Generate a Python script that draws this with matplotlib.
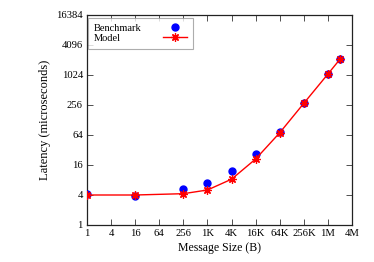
import matplotlib
matplotlib.use("Agg")
import matplotlib.pyplot as plt
from matplotlib.ticker import FixedLocator, NullLocator

plt.rcParams['font.family'] = ['Liberation Serif', 'DejaVu Serif']

sizes = [1, 16, 256, 1024, 4096, 16384, 65536, 262144, 1048576, 2097152]
benchmark = [4.25, 3.76, 5.3, 6.9, 12.1, 26, 73.5, 277, 1070, 2120]
model = [4.0, 4.0, 4.25, 5.04, 8.3, 21.1, 71, 277, 1070, 2120]

xticks = [1, 4, 16, 64, 256, 1024, 4096, 16384, 65536, 262144, 1048576, 4194304]
xlabels = ['1', '4', '16', '64', '256', '1K', '4K', '16K', '64K', '256K', '1M', '4M']
yticks = [1, 4, 16, 64, 256, 1024, 4096, 16384]
ylabels = ['1', '4', '16', '64', '256', '1024', '4096', '16384']

fig = plt.figure(figsize=(3.74, 2.62), dpi=100)
ax = fig.add_axes([87/374, 1-225/262, (352-87)/374, (225-15)/262])

ax.plot(sizes, benchmark, linestyle='none', marker='o', color='#0000ff',
        markersize=5, label='Benchmark', zorder=3)
ax.plot(sizes, model, color='#ff0000', marker=(8, 2, 0), markersize=6,
        linewidth=1.0, markeredgewidth=0.9, label='Model', zorder=4)

ax.set_xscale('log', base=2)
ax.set_yscale('log', base=2)
ax.set_xlim(1, 4194304)
ax.set_ylim(1, 16384)
ax.xaxis.set_major_locator(FixedLocator(xticks))
ax.yaxis.set_major_locator(FixedLocator(yticks))
ax.xaxis.set_minor_locator(NullLocator())
ax.yaxis.set_minor_locator(NullLocator())
ax.set_xticklabels(xlabels)
ax.set_yticklabels(ylabels)
ax.tick_params(direction='in', top=True, right=True, length=4, width=0.6,
               labelsize=7.7, pad=3, color='#333333')
for s in ax.spines.values():
    s.set_linewidth(0.9)
    s.set_color('#222222')

ax.set_xlabel('Message Size (B)', fontsize=8.5, labelpad=3)
ax.set_ylabel('Latency (microseconds)', fontsize=9.0, labelpad=4)

leg = ax.legend(loc='upper left', bbox_to_anchor=(0.004, 0.986), fontsize=7.5,
                markerfirst=False, frameon=True, fancybox=False,
                borderpad=0.55, handlelength=2.3, handletextpad=2.1,
                labelspacing=0.05, borderaxespad=0.0)
leg.get_frame().set_edgecolor('#999999')
leg.get_frame().set_linewidth(0.8)

# left-align label texts while keeping handles in a right-hand column
fig.canvas.draw()
renderer = fig.canvas.get_renderer()
texts = leg.get_texts()
widths = [t.get_window_extent(renderer).width * 72 / fig.dpi for t in texts]
maxw = max(widths)
column = leg._legend_handle_box.get_children()[0]
base_sep = leg.handletextpad * leg._fontsize
for item, w in zip(column.get_children(), widths):
    item.sep = base_sep + (maxw - w)
column.align = 'left'

fig.savefig('out.png', dpi=100)
